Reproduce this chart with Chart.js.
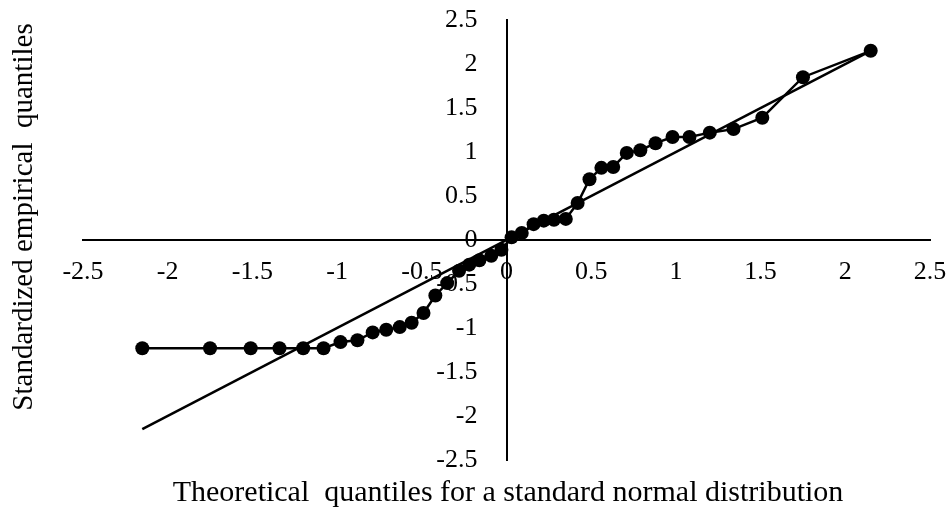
<!DOCTYPE html>
<html>
<head>
<meta charset="utf-8">
<script src="https://cdn.jsdelivr.net/npm/chart.js@4"></script>
<style>
  html, body { margin: 0; padding: 0; background: #fff; }
  #wrap { width: 948px; height: 510px; }
</style>
</head>
<body>
<div id="wrap"><canvas id="qqChart"></canvas></div>
<script>
// theoretical quantiles (x) and standardized empirical quantiles (y)
const theoretical = [-2.15, -1.75, -1.51, -1.34, -1.2, -1.08, -0.98, -0.88, -0.79, -0.71,
  -0.63, -0.56, -0.49, -0.42, -0.35, -0.28, -0.22, -0.16, -0.09, -0.03,
  0.03, 0.09, 0.16, 0.22, 0.28, 0.35, 0.42, 0.49, 0.56, 0.63,
  0.71, 0.79, 0.88, 0.98, 1.08, 1.2, 1.34, 1.51, 1.75, 2.15];
const empirical = [-1.23, -1.23, -1.23, -1.23, -1.23, -1.23, -1.16, -1.14, -1.05, -1.02,
  -0.99, -0.94, -0.83, -0.63, -0.49, -0.35, -0.28, -0.23, -0.18, -0.11,
  0.03, 0.08, 0.18, 0.22, 0.23, 0.24, 0.42, 0.69, 0.82, 0.83,
  0.99, 1.02, 1.1, 1.17, 1.17, 1.22, 1.26, 1.39, 1.85, 2.15];

// reference line y = x
const refX = [-2.15, 2.15];
const refY = [-2.15, 2.15];

const xTitle = 'Theoretical  quantiles for a standard normal distribution';
const yTitle = 'Standardized empirical  quantiles';

const serif = "'Liberation Serif', 'Times New Roman', serif";
const tickFont = '26px ' + serif;

const qqPoints = theoretical.map((x, i) => ({ x: x, y: empirical[i] }));
const refPoints = refX.map((x, i) => ({ x: x, y: refY[i] }));

function fmt(v) {
  return String(Math.round(v * 10) / 10);
}

// y tick labels (left of the centred axis) and the two axis titles
const axisText = {
  id: 'axisText',
  afterDraw(chart) {
    const ctx = chart.ctx;
    const xs = chart.scales.x;
    const ys = chart.scales.y;
    ctx.save();
    ctx.fillStyle = '#000';

    ctx.font = tickFont;
    ctx.textAlign = 'right';
    ctx.textBaseline = 'middle';
    const axisX = xs.getPixelForValue(0);
    ys.ticks.forEach(t => {
      ctx.fillText(fmt(t.value), axisX - 29, ys.getPixelForValue(t.value));
    });

    ctx.textAlign = 'center';
    ctx.font = '30px ' + serif;
    ctx.fillText(xTitle, 508, 493);
    ctx.font = '29px ' + serif;
    ctx.translate(24, 217);
    ctx.rotate(-Math.PI / 2);
    ctx.fillText(yTitle, 0, 0);
    ctx.restore();
  }
};

const ctx = document.getElementById('qqChart').getContext('2d');
new Chart(ctx, {
  type: 'scatter',
  data: {
    datasets: [
      {
        label: 'Empirical',
        data: qqPoints,
        showLine: true,
        borderColor: '#000',
        backgroundColor: '#000',
        borderWidth: 2.5,
        pointRadius: 7,
        pointBorderWidth: 0
      },
      {
        label: 'Reference',
        data: refPoints,
        showLine: true,
        borderColor: '#000',
        borderWidth: 2.5,
        pointRadius: 0
      }
    ]
  },
  options: {
    responsive: true,
    maintainAspectRatio: false,
    animation: false,
    layout: { padding: { left: 83, right: 18, top: 20, bottom: 50 } },
    plugins: {
      legend: { display: false },
      tooltip: { enabled: false }
    },
    scales: {
      x: {
        type: 'linear',
        position: { y: 0 },
        min: -2.5,
        max: 2.5,
        afterFit: (scale) => {
          scale.height = 0;
          scale.paddingLeft = 0;
          scale.paddingRight = 0;
        },
        grid: { display: false, drawTicks: false },
        border: { display: true, color: '#000', width: 2 },
        ticks: {
          stepSize: 0.5,
          padding: 17,
          color: '#000',
          maxRotation: 0,
          font: { family: serif, size: 26 },
          callback: (v) => fmt(v)
        }
      },
      y: {
        type: 'linear',
        position: { x: 0 },
        min: -2.5,
        max: 2.5,
        afterFit: (scale) => {
          scale.width = 0;
          scale.paddingTop = 0;
          scale.paddingBottom = 0;
        },
        grid: { display: false, drawTicks: false },
        border: { display: true, color: '#000', width: 2 },
        ticks: { display: false, stepSize: 0.5 }
      }
    }
  },
  plugins: [axisText]
});
</script>
</body>
</html>
